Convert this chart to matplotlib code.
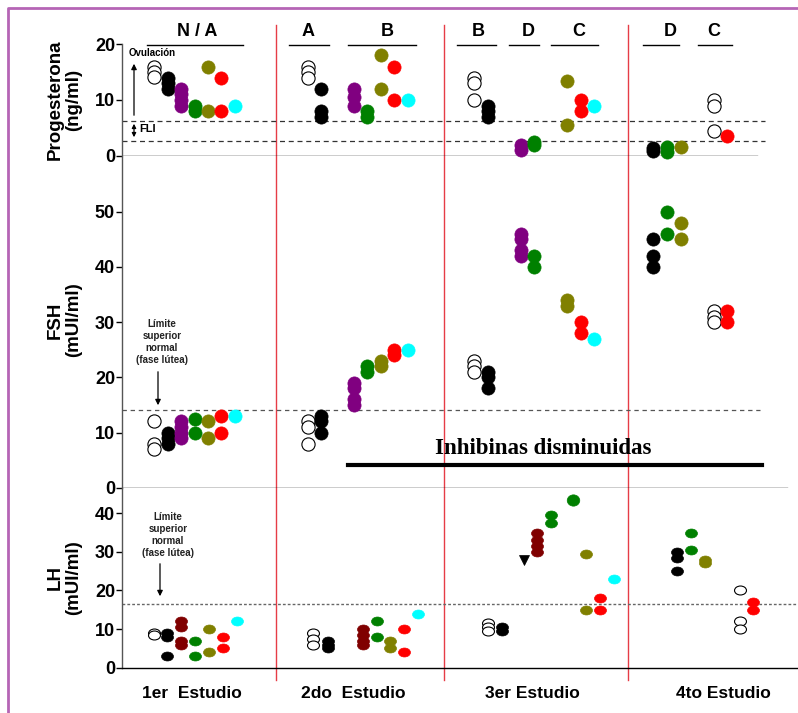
import numpy as np
import matplotlib
matplotlib.use('Agg')
import matplotlib.pyplot as plt
from matplotlib.markers import MarkerStyle
from matplotlib.transforms import Affine2D

plt.rcParams['font.family'] = ['Liberation Sans', 'DejaVu Sans']
plt.rcParams['font.weight'] = 'bold'

W, H = 798, 713  # tamaño en pixeles

# --- DATOS ---
# orden de grupos (columnas) en cada estudio
groups_123 = ['open', 'black', 'purple', 'green', 'olive', 'red', 'cyan']
groups_4 = ['black', 'green', 'olive', 'open', 'red']
lh_groups_12 = ['open', 'black', 'darkred', 'green', 'olive', 'red', 'cyan']
lh_groups_3 = ['open', 'black', 'tri', 'darkred', 'green', 'biggreen', 'olive', 'red', 'cyan']

# Progesterona (ng/ml)
prog_s1 = [[16, 15, 14.2], [14, 13, 12], [12, 11, 10, 9], [9, 8], [16, 8], [14, 8], [9]]
prog_s2 = [[16, 15, 14], [12, 8, 7], [12, 10.5, 9], [8, 7], [18, 12], [16, 10], [10]]
prog_s3 = [[14, 13, 10], [9, 8, 7], [2, 1], [2.5, 2], [13.5, 5.5], [10, 8], [9]]
prog_s4 = [[1.3, 0.8], [1.5, 0.6], [1.6], [10, 9, 4.5], [3.5]]

# FSH (mUI/ml)
fsh_s1 = [[12, 8, 7], [10, 9, 8], [12, 11, 10, 9], [12.5, 10], [12, 9], [13, 10], [13]]
fsh_s2 = [[12, 11, 8], [13, 12, 10], [19, 18, 16, 15], [22, 21], [23, 22], [25, 24], [25]]
fsh_s3 = [[23, 22, 21], [21, 20, 18], [46, 45, 43, 42], [42, 40], [34, 33], [30, 28], [27]]
fsh_s4 = [[45, 42, 40], [50, 46], [48, 45], [32, 31, 30], [32, 30]]

# LH (mUI/ml)
lh_s1 = [[9, 8.5], [9, 8, 3], [12, 10.5, 7, 6], [7, 3], [10, 4], [8, 5], [12]]
lh_s2 = [[9, 7.5, 6], [7, 6, 5], [10, 8.5, 7, 6], [12, 8], [7, 5], [10, 4], [14]]
lh_s3 = [[11.5, 10.5, 9.5], [10.5, 9.5], [28], [35, 33, 31.5, 30], [39.5, 37.5], [43.3],
         [29.5, 15], [18, 15], [23]]
lh_s4 = [[30, 28.5, 25], [35, 30.5], [28, 27], [20, 12, 10], [17, 15]]

prog_ref = [6.25, 2.7]   # FLI
fsh_ref = 14
lh_ref = 16.5

# --- POSICIONES (pixeles) ---
x_s1 = [154, 168, 181, 195, 208, 221, 235]
x_s2 = [308, 321, 354, 367, 381, 394, 408]
x_s3 = [474, 488, 521, 534, 567, 581, 594]
x_s4 = [653, 667, 681, 714, 727]
lh_x_s1 = [154, 167, 181, 195, 209, 223, 237]
lh_x_s2 = [313, 328, 363, 377, 390, 404, 418]
lh_x_s3 = [488, 502, 524, 537, 551, 573, 586, 600, 614]
lh_x_s4 = [677, 691, 705, 740, 753]

COL = {'open': 'white', 'black': 'black', 'purple': '#800080', 'green': '#008000',
       'olive': '#808000', 'red': '#ff0000', 'cyan': '#00ffff', 'darkred': '#800000',
       'tri': 'black', 'biggreen': '#008000'}

fig = plt.figure(figsize=(W / 100, H / 100), dpi=100)

# capa de fondo en pixeles para marco, lineas rojas y textos
ov = fig.add_axes([0, 0, 1, 1], zorder=0)
ov.set_xlim(0, W)
ov.set_ylim(H, 0)
ov.axis('off')


def make_ax(top, bottom, ymax):
    ax = fig.add_axes([122 / W, 1 - bottom / H, (W - 122) / W, (bottom - top) / H], zorder=2)
    ax.set_facecolor('none')
    ax.set_xlim(122, W)
    ax.set_ylim(0, ymax)
    for s in ['top', 'right', 'bottom']:
        ax.spines[s].set_visible(False)
    ax.spines['left'].set_color('#555555')
    ax.spines['left'].set_linewidth(1)
    ax.set_xticks([])
    ax.tick_params(axis='y', direction='out', length=4, width=1, labelsize=13, pad=1,
                   colors='black')
    return ax


def draw_cols(ax, xs, groups, vals, ms=9.5, squash=1.0):
    for x, g, v in zip(xs, groups, vals):
        mk = MarkerStyle('o', transform=Affine2D().scale(1, squash))
        size = ms
        if g == 'tri':
            mk = 'v'
            size = 7
        if g == 'biggreen':
            mk = MarkerStyle('o', transform=Affine2D().scale(1, 0.9))
            size = ms * 1.05
        if g == 'open':
            ax.plot([x] * len(v), v, ls='none', marker=mk, ms=size, mfc='white',
                    mec='black', mew=0.8, clip_on=False, zorder=3)
        else:
            ax.plot([x] * len(v), v, ls='none', marker=mk, ms=size, mfc=COL[g],
                    mec=COL[g], mew=0.5, clip_on=False, zorder=3)


# Progesterona
ax1 = make_ax(44.3, 155.7, 20)
ax1.set_yticks([0, 10, 20])
ax1.plot([122, 757], [0, 0], color='black', lw=1)
for r in prog_ref:
    ax1.plot([122, 765], [r, r], color='#333333', lw=0.9, ls=(0, (4, 3)))
draw_cols(ax1, x_s1, groups_123, prog_s1)
draw_cols(ax1, x_s2, groups_123, prog_s2)
draw_cols(ax1, x_s3, groups_123, prog_s3)
draw_cols(ax1, x_s4, groups_4, prog_s4)

# FSH
ax2 = make_ax(156.5, 487.7, 60)
ax2.set_yticks([0, 10, 20, 30, 40, 50])
ax2.plot([122, 787], [0, 0], color='black', lw=1)
ax2.plot([122, 760], [fsh_ref, fsh_ref], color='#555555', lw=0.9, ls=(0, (3.5, 3)))
draw_cols(ax2, x_s1, groups_123, fsh_s1)
draw_cols(ax2, x_s2, groups_123, fsh_s2)
draw_cols(ax2, x_s3, groups_123, fsh_s3)
draw_cols(ax2, x_s4, groups_4, fsh_s4)

# LH
ax3 = make_ax(487.7, 667.7, 46.6)
ax3.set_yticks([0, 10, 20, 30, 40])
ax3.spines['bottom'].set_visible(True)
ax3.spines['bottom'].set_linewidth(1)
ax3.plot([122, W], [lh_ref, lh_ref], color='#666666', lw=1, ls=(0, (2, 1.5)))
draw_cols(ax3, lh_x_s1, lh_groups_12, lh_s1, ms=8.6, squash=0.75)
draw_cols(ax3, lh_x_s2, lh_groups_12, lh_s2, ms=8.6, squash=0.75)
draw_cols(ax3, lh_x_s3, lh_groups_3, lh_s3, ms=8.6, squash=0.75)
draw_cols(ax3, lh_x_s4, groups_4, lh_s4, ms=8.6, squash=0.75)

# --- decoraciones en pixeles ---
ov.plot([8, 8, W + 5], [H + 5, 8, 8], color='#b565b5', lw=2)
for xr in [276, 444, 628]:
    ov.plot([xr, xr], [25, 680], color='#e63c46', lw=1)

# cabeceras de grupos
headers = [('N / A', 197, 147, 243), ('A', 308, 289, 329), ('B', 387, 348, 416),
           ('B', 478, 457, 496), ('D', 528, 509, 539), ('C', 579, 551, 598),
           ('D', 670, 643, 679), ('C', 714, 698, 732)]
for t, xc, x0, x1 in headers:
    ov.text(xc, 32, t, ha='center', va='center', fontsize=13)
    ov.plot([x0, x1], [45, 45], color='black', lw=1)

# etiquetas de ejes
ov.text(64, 100, 'Progesterona\n(ng/ml)', rotation=90, ha='center', va='center',
        fontsize=13.5, linespacing=1.1)
ov.text(64, 320, 'FSH\n(mUI/ml)', rotation=90, ha='center', va='center',
        fontsize=13.5, linespacing=1.1)
ov.text(64, 578, 'LH\n(mUI/ml)', rotation=90, ha='center', va='center',
        fontsize=13.5, linespacing=1.1)

for t, xc in [('1er  Estudio', 192), ('2do  Estudio', 353), ('3er Estudio', 532),
              ('4to Estudio', 723)]:
    ov.text(xc, 693, t, ha='center', va='center', fontsize=12.5)

# Ovulacion / FLI
ov.text(152, 53, 'Ovulación', ha='center', va='center', fontsize=7)
ov.annotate('', xy=(134, 61), xytext=(134, 118),
            arrowprops=dict(arrowstyle='-|>', color='black', lw=0.9, mutation_scale=8))
ov.annotate('', xy=(134, 121), xytext=(134, 140),
            arrowprops=dict(arrowstyle='<|-|>', color='black', lw=0.9, mutation_scale=6))
ov.text(139, 129, 'FLI', ha='left', va='center', fontsize=8)

# limite superior normal
lim_txt = 'Límite\nsuperior\nnormal\n(fase lútea)'
ov.text(162, 342, lim_txt, ha='center', va='center', fontsize=7, color='#222222',
        linespacing=1.25)
ov.annotate('', xy=(158, 408), xytext=(158, 369),
            arrowprops=dict(arrowstyle='-|>', color='black', lw=0.9, mutation_scale=8))
ov.text(168, 535, lim_txt, ha='center', va='center', fontsize=7, color='#222222',
        linespacing=1.25)
ov.annotate('', xy=(160, 599), xytext=(160, 561),
            arrowprops=dict(arrowstyle='-|>', color='black', lw=0.9, mutation_scale=8))

# Inhibinas disminuidas
ov.text(543, 448, 'Inhibinas disminuidas', ha='center', va='center', fontsize=16.5,
        fontweight='bold', family=['Liberation Serif', 'DejaVu Serif'])
ov.plot([348, 762], [465, 465], color='black', lw=3)

fig.savefig('out.png', dpi=100)
